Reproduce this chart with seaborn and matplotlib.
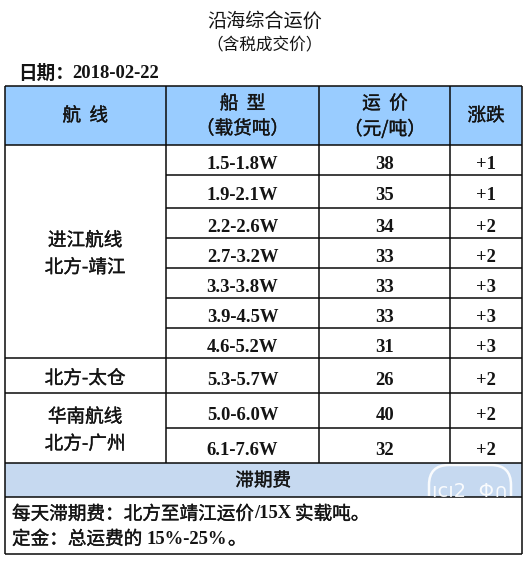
import numpy as np
import matplotlib
matplotlib.use('Agg')
import matplotlib.pyplot as plt
import matplotlib.patheffects as pe
from matplotlib.colors import ListedColormap
from matplotlib.patches import FancyBboxPatch, Rectangle
import seaborn as sns

# table content
ship_types = ['1.5-1.8W', '1.9-2.1W', '2.2-2.6W', '2.7-3.2W', '3.3-3.8W',
              '3.9-4.5W', '4.6-5.2W', '5.3-5.7W', '5.0-6.0W', '6.1-7.6W']
prices = [38, 35, 34, 33, 33, 33, 31, 26, 40, 32]
changes = ['+1', '+1', '+2', '+2', '+3', '+3', '+3', '+2', '+2', '+2']
route_names = ['进江航线\n北方-靖江', '北方-太仓', '华南航线\n北方-广州']
route_spans = [7, 1, 2]

title = '沿海综合运价'
subtitle = '（含税成交价）'
date_label = '日期：'
date_value = '2018-02-22'

# layout in image pixels
W, H = 530, 561
col_x = [4.7, 165.6, 319.4, 450.4, 521.8]
row_y = [145.3, 175, 208.3, 238.3, 268.3, 298.3, 328.3, 358.3, 393.3, 428.3, 463.2]
table_top, band_bottom, table_bottom = 85.7, 497.2, 554.2
HEADER_BLUE = '#99CCFF'
BAND_BLUE = '#C6D9F0'
INK = '#141414'

CJK = ['Noto Sans CJK SC', 'DejaVu Sans']
SERIF = ['Liberation Serif', 'Noto Sans CJK SC']

sns.set_theme(style='white')
plt.rcParams['font.family'] = CJK

fig = plt.figure(figsize=(W / 100, H / 100), dpi=100, facecolor='white')


def band(top, bottom, color):
    # one cell heatmap used as a filled band
    ax_band = fig.add_axes([col_x[0] / W, 1 - bottom / H,
                            (col_x[-1] - col_x[0]) / W, (bottom - top) / H])
    sns.heatmap(np.zeros((1, 1)), cmap=ListedColormap([color]), cbar=False,
                xticklabels=False, yticklabels=False, ax=ax_band)


band(table_top, row_y[0], HEADER_BLUE)
band(row_y[-1], band_bottom, BAND_BLUE)

ax = fig.add_axes([0, 0, 1, 1], facecolor='none')
ax.set_xlim(0, W)
ax.set_ylim(H, 0)
ax.axis('off')


def cjk(x, y, s, size=13.4, weight='normal', ha='center', stroke=0.0):
    t = ax.text(x, y + 2, s, fontsize=size, fontweight=weight, ha=ha, va='center',
                family=CJK, color=INK)
    if stroke:
        # the source type is a heavy song face, noto bold is too dark
        t.set_path_effects([pe.withStroke(linewidth=stroke, foreground=INK)])


def num(x, y, s, ha='center'):
    ax.text(x, y + 1, s, fontsize=13.4, fontweight='bold', ha=ha, va='center',
            family=SERIF, color=INK)


SEMI = 0.25

# titles
cjk(265, 19, title, size=13.8)
cjk(265, 44, subtitle, size=12)
cjk(18, 71, date_label, weight='bold', ha='left')
num(72, 72, date_value, ha='left')

# header
col_mid = [(a + b) / 2 for a, b in zip(col_x[:-1], col_x[1:])]
cjk(col_mid[0], 114, '航  线', stroke=SEMI)
cjk(col_mid[1], 102, '船  型', stroke=SEMI)
cjk(col_mid[1], 127, '（载货吨）', stroke=SEMI)
cjk(col_mid[2], 102, '运  价', stroke=SEMI)
cjk(col_mid[2], 127, '（元/吨）', stroke=SEMI)
cjk(col_mid[3], 114, '涨跌', stroke=SEMI)

# data rows
for i, (ship, price, change) in enumerate(zip(ship_types, prices, changes)):
    mid = (row_y[i] + row_y[i + 1]) / 2 + 3.3
    num(col_mid[1], mid, ship)
    num(col_mid[2], mid, str(price))
    num(col_mid[3], mid, change)

# route column, merged over several rows
start = 0
for name, span in zip(route_names, route_spans):
    mid = (row_y[start] + row_y[start + span]) / 2
    lines = name.split('\n')
    if len(lines) == 2:
        cjk(col_mid[0], mid - 13, lines[0], stroke=SEMI)
        cjk(col_mid[0], mid + 14, lines[1], stroke=SEMI)
    else:
        cjk(col_mid[0], mid + 1, lines[0], stroke=SEMI)
    start += span

# footer
cjk((col_x[0] + col_x[-1]) / 2, 479, '滞期费', stroke=SEMI)
cjk(12, 512.5, '每天滞期费：北方至靖江运价', stroke=SEMI, ha='left')
num(254, 513, '/15X', ha='left')
cjk(295, 512.5, '实载吨。', stroke=SEMI, ha='left')
cjk(12, 537.5, '定金：总运费的', stroke=SEMI, ha='left')
num(147, 538.5, '15%-25%', ha='left')
cjk(228, 537.5, '。', stroke=SEMI, ha='left')

# grid lines
line = dict(colors='#0a0a0a', linewidth=1.1)
ax.hlines([table_top, row_y[0], row_y[-1], band_bottom, table_bottom],
          col_x[0], col_x[-1], **line)
ax.hlines(row_y[1:7], col_x[1], col_x[-1], **line)
ax.hlines(row_y[7:9], col_x[0], col_x[-1], **line)
ax.hlines(row_y[9], col_x[1], col_x[-1], **line)
ax.vlines([col_x[0], col_x[-1]], table_top, table_bottom, **line)
ax.vlines(col_x[1:4], table_top, row_y[-1], **line)

# white watermark over the blue band
clip = Rectangle((col_x[0], row_y[-1]), col_x[-1] - col_x[0], band_bottom - row_y[-1] - 1,
                 transform=ax.transData)
mark = FancyBboxPatch((429, 465), 82, 60, boxstyle='round,pad=0,rounding_size=20',
                      fill=False, edgecolor='white', linewidth=1.8, alpha=0.9)
ax.add_patch(mark)
mark.set_clip_path(clip)
ax.text(470, 501, 'ıcı2  Φ∩', color='white', fontsize=14, ha='center', va='bottom',
        family='DejaVu Sans', alpha=0.9, clip_path=clip, clip_on=True)

fig.savefig('out.png', dpi=100)
